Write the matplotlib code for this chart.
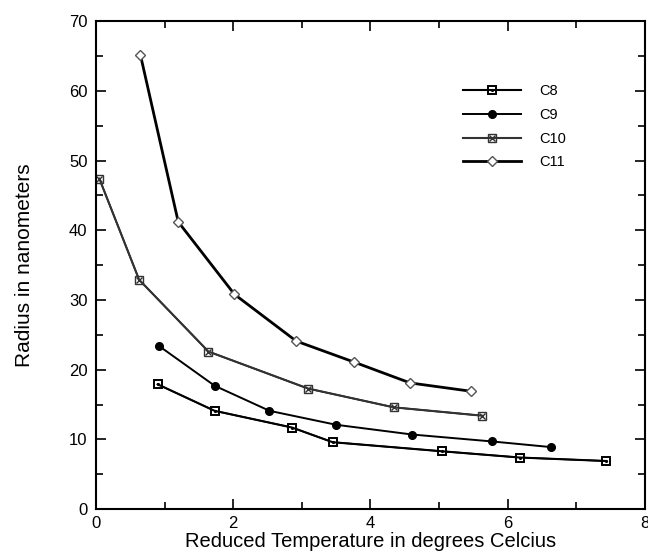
import matplotlib
matplotlib.use("Agg")
import matplotlib.pyplot as plt
from matplotlib.legend_handler import HandlerTuple
from matplotlib.ticker import MultipleLocator

plt.rcParams['font.family'] = ['Liberation Sans', 'DejaVu Sans']

c8_x = [0.90, 1.73, 2.86, 3.45, 5.04, 6.18, 7.44]
c8_y = [17.9, 14.1, 11.7, 9.6, 8.3, 7.4, 6.9]
c9_x = [0.92, 1.73, 2.53, 3.50, 4.61, 5.78, 6.63]
c9_y = [23.4, 17.7, 14.1, 12.1, 10.7, 9.7, 8.9]
c10_x = [0.05, 0.63, 1.64, 3.09, 4.34, 5.63]
c10_y = [47.4, 32.9, 22.6, 17.3, 14.6, 13.4]
c11_x = [0.65, 1.20, 2.02, 2.92, 3.76, 4.58, 5.47]
c11_y = [65.1, 41.2, 30.8, 24.1, 21.1, 18.1, 16.9]

fig = plt.figure(figsize=(6.48, 5.54), dpi=100)
ax = fig.add_axes([0.148, 0.081, 0.847, 0.881])

h8a, = ax.plot(c8_x, c8_y, '-', color='black', lw=1.2, marker='s', ms=5.5,
               mfc='white', mec='black', mew=1.4)
h8b, = ax.plot(c8_x, c8_y, 'none', marker='.', ms=2.5, color='black')
h9, = ax.plot(c9_x, c9_y, '-', color='black', lw=1.4, marker='o', ms=5.5,
              mfc='black', mec='black')
h10a, = ax.plot(c10_x, c10_y, '-', color='black', lw=1.2, marker='s', ms=5.5,
                mfc='white', mec='#333333', mew=1.0)
h10b, = ax.plot(c10_x, c10_y, 'none', marker='x', ms=4.5, color='#333333', mew=1.0)
h11, = ax.plot(c11_x, c11_y, '-', color='black', lw=2.0, marker='D', ms=5,
               mfc='white', mec='#555555', mew=1.0)

ax.legend([(h8a, h8b), h9, (h10a, h10b), h11], ['C8', 'C9', 'C10', 'C11'],
          handler_map={tuple: HandlerTuple(ndivide=1, pad=0)},
          loc='upper left', bbox_to_anchor=(0.645, 0.897), frameon=False,
          handlelength=4.0, handletextpad=1.2, labelspacing=0.66, fontsize=10.5)

ax.set_xlim(0, 8)
ax.set_ylim(0, 70)
ax.xaxis.set_major_locator(MultipleLocator(2))
ax.xaxis.set_minor_locator(MultipleLocator(1))
ax.yaxis.set_major_locator(MultipleLocator(10))
ax.yaxis.set_minor_locator(MultipleLocator(5))
ax.tick_params(which='both', direction='in', top=True, right=True, labelsize=12, width=1.2)
ax.tick_params(which='major', length=7)
ax.tick_params(which='minor', length=5)
ax.tick_params(axis='y', pad=6)
ax.tick_params(axis='x', pad=5)
for s in ax.spines.values():
    s.set_linewidth(1.5)

ax.set_xlabel('Reduced Temperature in degrees Celcius', fontsize=14.5, labelpad=1)
ax.set_ylabel('Radius in nanometers', fontsize=15, labelpad=25)

fig.savefig('out.png', dpi=100)
